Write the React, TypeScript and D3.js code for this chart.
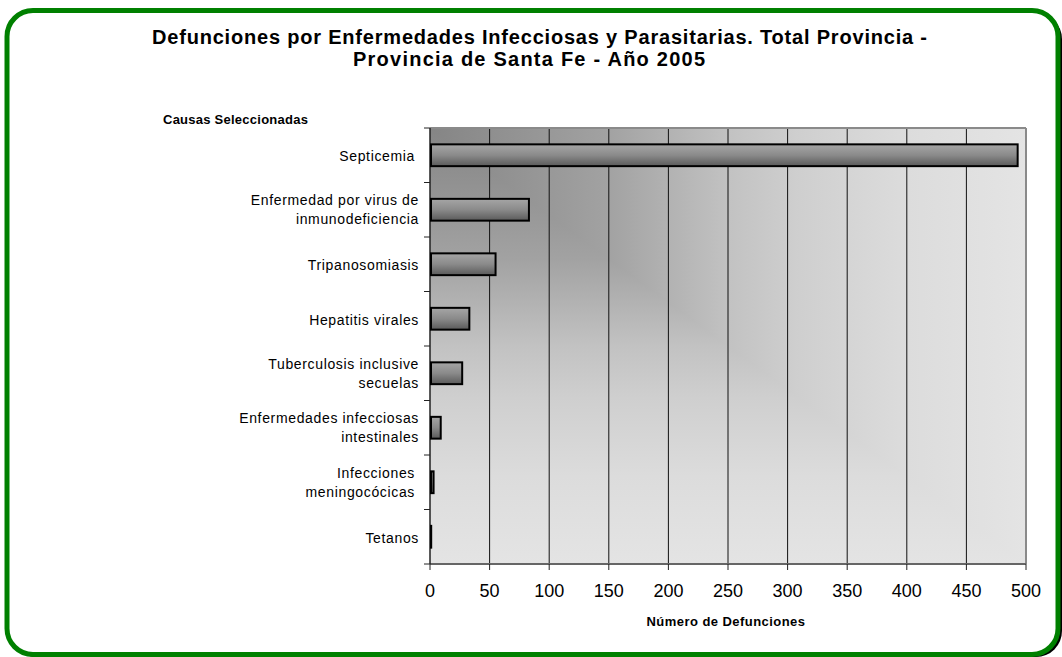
import React from "react";
import * as d3 from "d3";

const categories = [
  "Septicemia",
  "Enfermedad por virus de|inmunodeficiencia",
  "Tripanosomiasis",
  "Hepatitis virales",
  "Tuberculosis inclusive|secuelas",
  "Enfermedades infecciosas|intestinales",
  "Infecciones|meningocócicas",
  "Tetanos",
];
const values = [493, 83, 55, 33, 27, 9, 3, 1];
const xTicks = [0, 50, 100, 150, 200, 250, 300, 350, 400, 450, 500];
const titleLines = [
  "Defunciones por Enfermedades Infecciosas y Parasitarias. Total Provincia -",
  "Provincia de Santa Fe - Año 2005",
];

const W = 1062;
const H = 657;
const L = 430, R = 1026, T = 128, B = 564;
const FONT = "'Liberation Sans', Arial, Helvetica, sans-serif";

const bgStops: [number, string][] = [
  [0, "#858585"],
  [0.3, "#a2a2a2"],
  [0.5, "#c2c2c2"],
  [0.62, "#cfcfcf"],
  [0.8, "#dcdcdc"],
  [1, "#e4e4e4"],
];

const titleGeom = [
  { x1: 152, x2: 927, y: 44 },
  { x1: 353, x2: 705, y: 66 },
];

export default function App() {
  const x = d3.scaleLinear().domain([0, 500]).range([L, R]);
  const y = d3.scaleBand<string>().domain(categories).range([T, B]).paddingInner(0.6).paddingOuter(0.3);
  const step = y.step();
  const bandEdges = d3.range(categories.length + 1).map((i) => T + i * step);

  return (
    <svg width={W} height={H} style={{ position: "absolute", left: 0, top: 0, background: "#fff" }} fontFamily={FONT}>
      <defs>
        <linearGradient id="bgx" x1={L} x2={R} y1={0} y2={0} gradientUnits="userSpaceOnUse">
          {bgStops.map(([o, c]) => <stop key={o} offset={o} stopColor={c} />)}
        </linearGradient>
        <linearGradient id="bgy" x1={0} x2={0} y1={T} y2={B} gradientUnits="userSpaceOnUse">
          {bgStops.map(([o, c]) => <stop key={o} offset={o} stopColor={c} />)}
        </linearGradient>
        <linearGradient id="bar" x1={0} x2={0} y1={0} y2={1}>
          <stop offset={0} stopColor="#a6a6a6" />
          <stop offset={0.5} stopColor="#8a8a8a" />
          <stop offset={1} stopColor="#5a5a5a" />
        </linearGradient>
      </defs>

      {/* frame with shadow */}
      <rect x={10} y={13} width={1052} height={644} rx={26} fill="#000" />
      <rect x={7} y={10.5} width={1051} height={644} rx={26} fill="#fff" stroke="#008000" strokeWidth={5} />

      {/* title */}
      {titleLines.map((t, i) => (
        <text key={i} x={titleGeom[i].x1} y={titleGeom[i].y} fontWeight="bold" fontSize={20} fill="#000"
          textLength={titleGeom[i].x2 - titleGeom[i].x1} lengthAdjust="spacing">{t}</text>
      ))}
      <text x={163} y={124} fontWeight="bold" fontSize={13} letterSpacing={0.25} fill="#000">Causas Seleccionadas</text>

      {/* plot background: corner gradient */}
      <rect x={L} y={T} width={R - L} height={B - T} fill="url(#bgy)" />
      <polygon points={`${L},${T} ${R},${T} ${R},${B}`} fill="url(#bgx)" />

      {/* gridlines */}
      {xTicks.filter((v) => v > 0 && v < 500).map((v) => (
        <line key={v} x1={x(v)} x2={x(v)} y1={T} y2={B} stroke="#111" strokeWidth={1} />
      ))}

      {/* frame */}
      <line x1={L} x2={R} y1={T} y2={T} stroke="#8a8a8a" strokeWidth={2} />
      <line x1={R} x2={R} y1={T} y2={B} stroke="#8a8a8a" strokeWidth={2} />
      <line x1={L} x2={R} y1={B} y2={B} stroke="#666" strokeWidth={2} />
      <line x1={L} x2={L} y1={T} y2={B} stroke="#222" strokeWidth={1.5} />

      {/* bars */}
      {categories.map((c, i) => (
        <rect key={c} x={x(0) + 1} y={y(c)!} width={Math.max(0, x(values[i]) - x(0) - 1)} height={y.bandwidth()}
          fill="url(#bar)" stroke="#000" strokeWidth={2} />
      ))}

      {/* y ticks */}
      {bandEdges.map((e, i) => (
        <line key={i} x1={L - 6} x2={L} y1={e} y2={e} stroke="#222" strokeWidth={1} />
      ))}
      {/* x ticks */}
      {xTicks.map((v) => (
        <g key={v}>
          <line x1={x(v)} x2={x(v)} y1={B} y2={B + 6} stroke="#222" strokeWidth={1} />
          <text x={x(v)} y={597} textAnchor="middle" fontSize={18} fill="#000">{v}</text>
        </g>
      ))}

      {/* category labels */}
      {categories.map((c) => {
        const lines = c.split("|");
        const cy = y(c)! + y.bandwidth() / 2;
        const base = lines.length === 1 ? cy + 6 : cy + 5;
        return (
          <text key={c} textAnchor="end" fontSize={14} letterSpacing={0.65} fill="#000">
            {lines.map((ln, j) => (
              <tspan key={j} x={c === "Septicemia" || j === 0 && lines[0] === "Infecciones" || ln === "meningocócicas" ? 415 : 419}
                y={base + (j - (lines.length - 1) / 2) * 19}>{ln}</tspan>
            ))}
          </text>
        );
      })}

      <text x={726} y={626} textAnchor="middle" fontWeight="bold" fontSize={13} letterSpacing={0.45} fill="#000">Número de Defunciones</text>
    </svg>
  );
}
